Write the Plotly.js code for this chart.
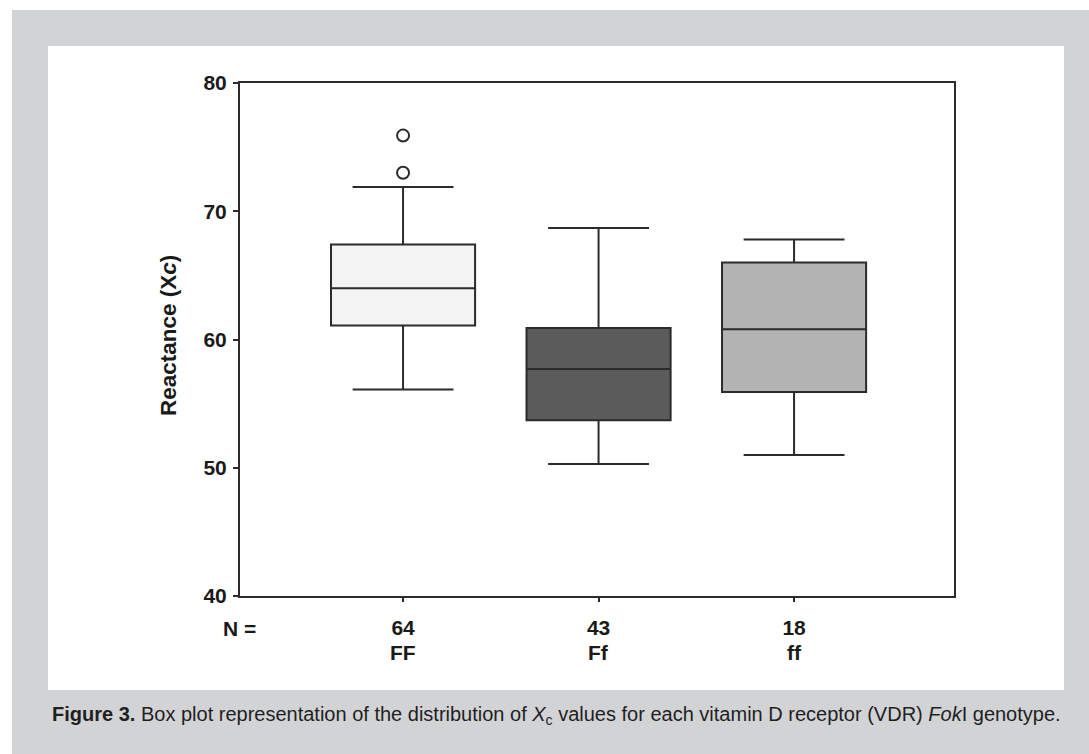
<!DOCTYPE html>
<html>
<head>
<meta charset="utf-8">
<script src="https://cdn.plot.ly/plotly-3.0.1.min.js"></script>
<style>
html,body{margin:0;padding:0;background:#ffffff;}
#chart{width:1089px;height:754px;}
</style>
</head>
<body>
<div id="chart"></div>
<script>
// Data
const genotypes = ['FF', 'Ff', 'ff'];
const sampleSizes = ['64', '43', '18'];
const lowerWhisker = [56.1, 50.3, 51.0];
const q1Values = [61.1, 53.7, 55.9];
const medianValues = [64.0, 57.7, 60.8];
const q3Values = [67.4, 60.9, 66.0];
const upperWhisker = [71.9, 68.7, 67.8];
const outlierGenotype = ['FF', 'FF'];
const outlierValues = [75.9, 73.0];
const boxFills = ['#f3f3f3', '#5b5b5b', '#b3b3b3'];
const yTicks = [40, 50, 60, 70, 80];

const fontFamily = 'Arial, "Liberation Sans", Helvetica, sans-serif';
const lineColor = '#2b2b2b';
const textColor = '#1a1a1a';

const traces = genotypes.map((g, i) => ({
  type: 'box',
  x: [g],
  q1: [q1Values[i]],
  median: [medianValues[i]],
  q3: [q3Values[i]],
  lowerfence: [lowerWhisker[i]],
  upperfence: [upperWhisker[i]],
  width: 0.737,
  whiskerwidth: 0.7,
  fillcolor: boxFills[i],
  line: {color: lineColor, width: 2},
  boxpoints: false,
  hoverinfo: 'skip',
  showlegend: false
}));

traces.push({
  type: 'scatter',
  mode: 'markers',
  x: outlierGenotype,
  y: outlierValues,
  marker: {symbol: 'circle-open', size: 12, color: lineColor, line: {width: 2, color: lineColor}},
  hoverinfo: 'skip',
  showlegend: false
});

const boldFont = {family: fontFamily, size: 21, weight: 'bold', color: textColor};

const annotations = [
  {text: 'Reactance (X<i>c</i>)', xref: 'paper', yref: 'paper',
   x: -0.1008, y: 0.5068, xanchor: 'center', yanchor: 'middle', textangle: -90,
   showarrow: false, font: {family: fontFamily, size: 22.5, weight: 'bold', color: textColor}},
  {text: 'N =', xref: 'paper', yref: 'paper',
   x: -0.0014, y: -0.0624, xanchor: 'center', yanchor: 'middle',
   showarrow: false, font: boldFont},
  {text: '<b>Figure 3.</b> Box plot representation of the distribution of <i>X</i><sub>c</sub> values for each vitamin D receptor (VDR) <i>Fok</i>I genotype.',
   xref: 'paper', yref: 'paper', x: -0.2661, y: -0.232, xanchor: 'left', yanchor: 'middle',
   showarrow: false, font: {family: fontFamily, size: 20, color: '#1f1f1f'}}
];
genotypes.forEach(g => {
  annotations.push({text: g, xref: 'x', yref: 'paper', x: g, y: -0.1092,
    xanchor: 'center', yanchor: 'middle', showarrow: false, font: boldFont});
});

const layout = {
  width: 1089,
  height: 754,
  margin: {l: 240, r: 135, t: 83, b: 158},
  paper_bgcolor: '#ffffff',
  plot_bgcolor: 'rgba(0,0,0,0)',
  boxmode: 'overlay',
  font: {family: fontFamily, color: textColor},
  xaxis: {
    type: 'category',
    categoryorder: 'array',
    categoryarray: genotypes,
    range: [-0.834, 2.818],
    tickmode: 'array',
    tickvals: genotypes,
    ticktext: sampleSizes,
    ticks: 'outside',
    ticklen: 4,
    tickwidth: 2,
    tickcolor: lineColor,
    ticklabelstandoff: 8,
    showline: true,
    linecolor: lineColor,
    linewidth: 2,
    mirror: true,
    showgrid: false,
    zeroline: false,
    tickfont: boldFont
  },
  yaxis: {
    range: [40, 80],
    tickmode: 'array',
    tickvals: yTicks,
    ticktext: yTicks.map(String),
    ticks: 'outside',
    ticklen: 5,
    tickwidth: 2,
    tickcolor: lineColor,
    ticklabelstandoff: 2,
    showline: true,
    linecolor: lineColor,
    linewidth: 2,
    mirror: true,
    showgrid: false,
    zeroline: false,
    tickfont: boldFont
  },
  shapes: [
    {type: 'rect', xref: 'paper', yref: 'paper', layer: 'below',
     x0: -0.31933, x1: 1.25, y0: -0.35, y1: 1.14230,
     fillcolor: '#d2d3d5', line: {width: 0}},
    {type: 'rect', xref: 'paper', yref: 'paper', layer: 'below',
     x0: -0.26891, x1: 1.15406, y0: -0.18324, y1: 1.07212,
     fillcolor: '#ffffff', line: {width: 0}}
  ],
  annotations: annotations
};

Plotly.newPlot('chart', traces, layout, {displayModeBar: false, staticPlot: true});
</script>
</body>
</html>
